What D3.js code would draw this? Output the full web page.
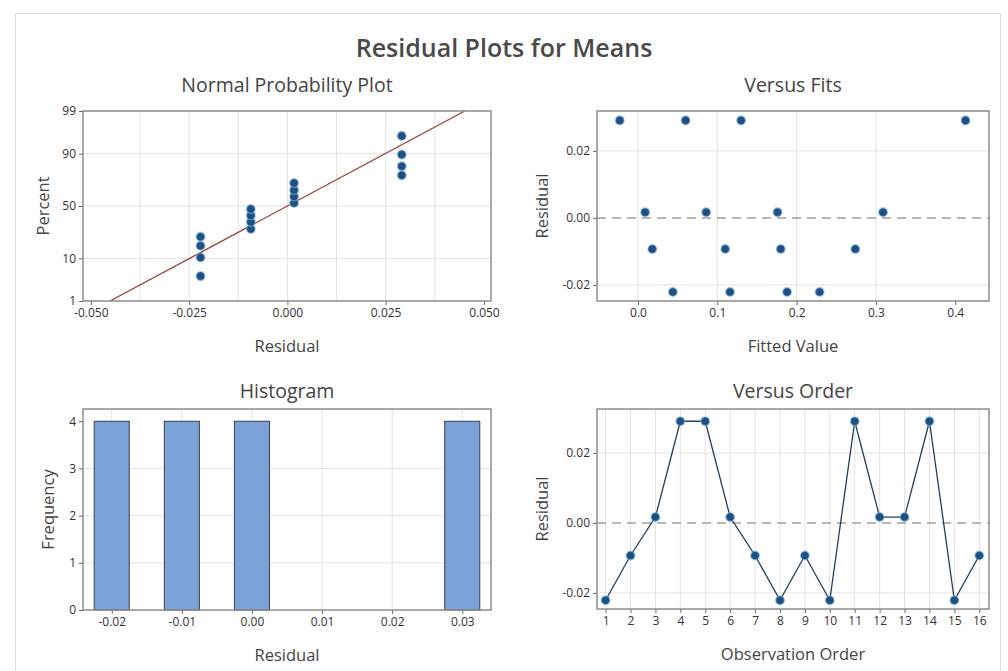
<!DOCTYPE html>
<html>
<head>
<meta charset="utf-8">
<script src="https://cdn.jsdelivr.net/npm/d3@7"></script>
<style>
  body { margin: 0; background: #fff; }
  svg text { font-family: "Open Sans", "Noto Sans", sans-serif; fill: #333; }
</style>
</head>
<body>
<div id="chart"></div>
<script>
//  RESIDUAL PLOTS FOR MEANS (MINITAB STYLE FOUR-IN-ONE)

//  STEP 1 : DATA

const observation = [1, 2, 3, 4, 5, 6, 7, 8, 9, 10, 11, 12, 13, 14, 15, 16];
const residuals = [-0.0221, -0.0093, 0.0017, 0.0291, 0.0291, 0.0017, -0.0093, -0.0221,
                   -0.0093, -0.0221, 0.0291, 0.0017, 0.0017, 0.0291, -0.0221, -0.0093];
const fitted = [0.044, 0.018, 0.009, -0.023, 0.060, 0.086, 0.110, 0.116,
                0.180, 0.188, 0.130, 0.176, 0.309, 0.413, 0.229, 0.274];

// normal probability plot: sorted residuals against plotted percent
const npPercent = [4.3, 10.4, 16.5, 22.6, 28.7, 34.8, 40.9, 47.0,
                   53.0, 59.1, 65.2, 71.3, 77.4, 83.5, 89.6, 95.7];
const fitLine = { mean: 0.0000, sd: 0.0194 };

// histogram bins
const binCenters = [-0.020, -0.015, -0.010, -0.005, 0.000, 0.005, 0.010, 0.015, 0.020, 0.025, 0.030];
const binCounts = [4, 0, 4, 0, 4, 0, 0, 0, 0, 0, 4];
const binWidth = 0.005;

// tick labels
const npXTicks = [-0.050, -0.025, 0.000, 0.025, 0.050];
const npXGrid = [-0.0375, -0.025, -0.0125, 0, 0.0125, 0.025, 0.0375];
const npYTicks = [1, 10, 50, 90, 99];
const fitsXTicks = [0.0, 0.1, 0.2, 0.3, 0.4];
const residTicks = [-0.02, 0.00, 0.02];
const histXTicks = [-0.02, -0.01, 0.00, 0.01, 0.02, 0.03];
const histYTicks = [0, 1, 2, 3, 4];

//  STEP 2 : HELPERS

// inverse normal cdf (Acklam)
function normInv(p) {
    const a = [-39.69683028665376, 220.9460984245205, -275.9285104469687, 138.3577518672690, -30.66479806614716, 2.506628277459239];
    const b = [-54.47609879822406, 161.5858368580409, -155.6989798598866, 66.80131188771972, -13.28068155288572];
    const c = [-0.007784894002430293, -0.3223964580411365, -2.400758277161838, -2.549732539343734, 4.374664141464968, 2.938163982698783];
    const d = [0.007784695709041462, 0.3224671290700398, 2.445134137142996, 3.754408661907416];
    const pl = 0.02425;
    let q, r;
    if (p < pl) {
        q = Math.sqrt(-2 * Math.log(p));
        return (((((c[0]*q+c[1])*q+c[2])*q+c[3])*q+c[4])*q+c[5]) / ((((d[0]*q+d[1])*q+d[2])*q+d[3])*q+1);
    }
    if (p > 1 - pl) {
        q = Math.sqrt(-2 * Math.log(1 - p));
        return -(((((c[0]*q+c[1])*q+c[2])*q+c[3])*q+c[4])*q+c[5]) / ((((d[0]*q+d[1])*q+d[2])*q+d[3])*q+1);
    }
    q = p - 0.5; r = q * q;
    return (((((a[0]*r+a[1])*r+a[2])*r+a[3])*r+a[4])*r+a[5])*q / (((((b[0]*r+b[1])*r+b[2])*r+b[3])*r+b[4])*r+1);
}

const W = 1008, H = 671;
const svg = d3.select('#chart').append('svg')
    .attr('width', W).attr('height', H);

// outer frame
svg.append('rect')
    .attr('x', 15.5).attr('y', 13.5)
    .attr('width', 985).attr('height', 680)
    .attr('fill', '#fff').attr('stroke', '#dcdcdc');

svg.append('text')
    .attr('x', 504).attr('y', 57)
    .attr('text-anchor', 'middle')
    .style('font-size', '25px').style('font-weight', 600)
    .style('fill', '#4a4a4a')
    .text('Residual Plots for Means');

// draws grid, ticks and titles of one panel
function panel(box, x, y, o) {
    const g = svg.append('g');
    const grid = g.append('g');
    (o.xGrid || []).forEach((v)=>{
        grid.append('line')
            .attr('x1', x(v)).attr('x2', x(v))
            .attr('y1', box.top).attr('y2', box.bottom)
            .attr('stroke', '#e2e2e2');
    });
    (o.yGrid || []).forEach((v)=>{
        grid.append('line')
            .attr('x1', box.left).attr('x2', box.right)
            .attr('y1', y(v)).attr('y2', y(v))
            .attr('stroke', '#e2e2e2');
    });

    const xAxis = d3.axisBottom(x).tickValues(o.xTicks).tickFormat(o.xFmt).tickSize(4).tickPadding(3);
    const gx = g.append('g')
        .attr('transform', `translate(0, ${box.bottom})`)
        .call(xAxis);
    const yAxis = d3.axisLeft(y).tickValues(o.yTicks).tickFormat(o.yFmt).tickSize(4).tickPadding(3);
    const gy = g.append('g')
        .attr('transform', `translate(${box.left}, 0)`)
        .call(yAxis);
    [gx, gy].forEach((a)=>{
        a.select('.domain').remove();
        a.selectAll('.tick line').attr('stroke', '#666');
        a.selectAll('.tick text').style('font-size', '12px').style('fill', '#333')
            .style('font-family', '"Open Sans", sans-serif');
    });

    // titles
    g.append('text')
        .attr('x', (box.left + box.right) / 2).attr('y', o.titleY)
        .attr('text-anchor', 'middle')
        .style('font-size', '19.5px').style('fill', '#444')
        .text(o.title);
    g.append('text')
        .attr('x', (box.left + box.right) / 2).attr('y', box.bottom + 51)
        .attr('text-anchor', 'middle')
        .style('font-size', '16.5px').style('fill', '#444')
        .text(o.xLabel);
    g.append('text')
        .attr('transform', `translate(${box.left - o.yLabelOff}, ${(box.top + box.bottom) / 2}) rotate(-90)`)
        .attr('text-anchor', 'middle')
        .style('font-size', '16.5px').style('fill', '#444')
        .text(o.yLabel);
    return g;
}

function frame(box) {
    svg.append('rect')
        .attr('x', box.left).attr('y', box.top)
        .attr('width', box.right - box.left).attr('height', box.bottom - box.top)
        .attr('fill', 'none').attr('stroke', '#8c8c8c').attr('stroke-width', 1.5);
}

function dots(sel, data, fx, fy) {
    sel.selectAll(null)
        .data(data)
        .enter()
        .append('circle')
            .attr('cx', fx).attr('cy', fy)
            .attr('r', 4.3)
            .attr('fill', '#1d4f7f')
            .attr('stroke', 'rgba(120,175,225,0.55)')
            .attr('stroke-width', 1.6);
}

const f3 = d3.format('.3f'), f2 = d3.format('.2f'), f1 = d3.format('.1f');
const minus = (f)=> (v)=> f(v).replace('−', '-');

//  STEP 3 : NORMAL PROBABILITY PLOT

const npBox = { left: 83, right: 491, top: 111, bottom: 301 };
const npX = d3.scaleLinear().domain([-0.052, 0.0518]).range([npBox.left, npBox.right]);
const npZ = d3.scaleLinear().domain([normInv(0.01), normInv(0.99)]).range([npBox.bottom, npBox.top]);
const npY = (p)=> npZ(normInv(p / 100));
npY.range = ()=> npZ.range();
npY.copy = ()=> npY;
npY.domain = ()=> [1, 99];

const npG = panel(npBox, npX, npY, {
    title: 'Normal Probability Plot', titleY: 92, xLabel: 'Residual', yLabel: 'Percent', yLabelOff: 34,
    xTicks: npXTicks, xFmt: minus(f3), yTicks: npYTicks, yFmt: d3.format('d'),
    xGrid: npXGrid, yGrid: [10, 50, 90]
});

const sorted = residuals.slice().sort(d3.ascending);
npG.append('line')
    .attr('x1', npX(fitLine.mean + fitLine.sd * normInv(0.01)))
    .attr('y1', npY(1))
    .attr('x2', npX(fitLine.mean + fitLine.sd * normInv(0.99)))
    .attr('y2', npY(99))
    .attr('stroke', '#9a3b32').attr('stroke-width', 1.3);
dots(npG, sorted, (d)=> npX(d), (d, i)=> npY(npPercent[i]));
frame(npBox);

//  STEP 4 : VERSUS FITS

const vfBox = { left: 597, right: 989, top: 111, bottom: 301 };
const vfX = d3.scaleLinear().domain([-0.0517, 0.4426]).range([vfBox.left, vfBox.right]);
const vfY = d3.scaleLinear().domain([-0.0248, 0.0319]).range([vfBox.bottom, vfBox.top]);
const vfG = panel(vfBox, vfX, vfY, {
    title: 'Versus Fits', titleY: 92, xLabel: 'Fitted Value', yLabel: 'Residual', yLabelOff: 49,
    xTicks: fitsXTicks, xFmt: f1, yTicks: residTicks, yFmt: minus(f2),
    xGrid: fitsXTicks.slice(0, 4), yGrid: [-0.02, 0.02]
});
vfG.append('line')
    .attr('x1', vfBox.left).attr('x2', vfBox.right)
    .attr('y1', vfY(0)).attr('y2', vfY(0))
    .attr('stroke', '#a0a0a0').attr('stroke-width', 1.5).attr('stroke-dasharray', '9,6');
dots(vfG, residuals, (d, i)=> vfX(fitted[i]), (d)=> vfY(d));
frame(vfBox);

//  STEP 5 : HISTOGRAM

const hBox = { left: 83, right: 491, top: 409, bottom: 610 };
const hX = d3.scaleLinear().domain([-0.0241, 0.0341]).range([hBox.left, hBox.right]);
const hY = d3.scaleLinear().domain([0, 4.26]).range([hBox.bottom, hBox.top]);
const hG = panel(hBox, hX, hY, {
    title: 'Histogram', titleY: 398, xLabel: 'Residual', yLabel: 'Frequency', yLabelOff: 29,
    xTicks: histXTicks, xFmt: minus(f2), yTicks: histYTicks, yFmt: d3.format('d'),
    xGrid: histXTicks, yGrid: [1, 2, 3]
});
hG.selectAll('rect.bar')
    .data(binCenters.map((c, i)=> [c, binCounts[i]]).filter((d)=> d[1] > 0))
    .enter()
    .append('rect')
        .attr('class', 'bar')
        .attr('x', (d)=> hX(d[0] - binWidth / 2))
        .attr('width', (d)=> hX(d[0] + binWidth / 2) - hX(d[0] - binWidth / 2))
        .attr('y', (d)=> hY(d[1]))
        .attr('height', (d)=> hY(0) - hY(d[1]))
        .attr('fill', '#7ba3d9')
        .attr('stroke', '#3a3f48').attr('stroke-width', 1);
frame(hBox);

//  STEP 6 : VERSUS ORDER

const voBox = { left: 597, right: 989, top: 409, bottom: 609 };
const voX = d3.scaleLinear().domain([0.655, 16.39]).range([voBox.left, voBox.right]);
const voY = d3.scaleLinear().domain([-0.0246, 0.0326]).range([voBox.bottom, voBox.top]);
const voG = panel(voBox, voX, voY, {
    title: 'Versus Order', titleY: 398, xLabel: 'Observation Order', yLabel: 'Residual', yLabelOff: 49,
    xTicks: observation, xFmt: d3.format('d'), yTicks: residTicks, yFmt: minus(f2),
    xGrid: observation, yGrid: [-0.02, 0.02]
});
voG.append('line')
    .attr('x1', voBox.left).attr('x2', voBox.right)
    .attr('y1', voY(0)).attr('y2', voY(0))
    .attr('stroke', '#a0a0a0').attr('stroke-width', 1.5).attr('stroke-dasharray', '9,6');
voG.append('path')
    .datum(residuals)
    .attr('fill', 'none')
    .attr('stroke', '#223f5e').attr('stroke-width', 1.3)
    .attr('d', d3.line().x((d, i)=> voX(observation[i])).y((d)=> voY(d)));
dots(voG, residuals, (d, i)=> voX(observation[i]), (d)=> voY(d));
frame(voBox);
</script>
</body>
</html>
